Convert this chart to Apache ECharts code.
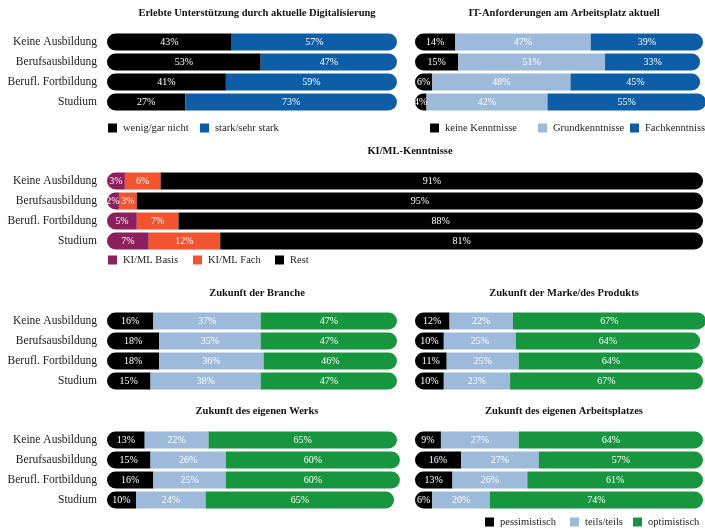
<!DOCTYPE html>
<html>
<head>
<meta charset="utf-8">
<script src="https://cdn.jsdelivr.net/npm/echarts@6/dist/echarts.min.js"></script>
<style>
  html, body { margin: 0; padding: 0; background: #fff; }
  #chart { width: 705px; height: 532px; }
</style>
</head>
<body>
<div id="chart"></div>
<script>
// Gruppen (Zeilen aller Teilgrafiken)
const categories = ['Keine Ausbildung', 'Berufsausbildung', 'Berufl. Fortbildung', 'Studium'];

// Erlebte Unterstützung durch aktuelle Digitalisierung
const supportLow = [43, 53, 41, 27];
const supportHigh = [57, 47, 59, 73];

// IT-Anforderungen am Arbeitsplatz aktuell
const itNone = [14, 15, 6, 4];
const itBasic = [47, 51, 48, 42];
const itExpert = [39, 33, 45, 55];

// KI/ML-Kenntnisse
const aiBasic = [3, 2, 5, 7];
const aiExpert = [6, 3, 7, 12];
const aiRest = [91, 95, 88, 81];

// Zukunft der Branche
const branchePess = [16, 18, 18, 15];
const branchePart = [37, 35, 36, 38];
const brancheOpt = [47, 47, 46, 47];

// Zukunft der Marke/des Produkts
const markePess = [12, 10, 11, 10];
const markePart = [22, 25, 25, 23];
const markeOpt = [67, 64, 64, 67];

// Zukunft des eigenen Werks
const werkPess = [13, 15, 16, 10];
const werkPart = [22, 26, 25, 24];
const werkOpt = [65, 60, 60, 65];

// Zukunft des eigenen Arbeitsplatzes
const platzPess = [9, 16, 13, 6];
const platzPart = [27, 27, 26, 20];
const platzOpt = [64, 57, 61, 74];

const SERIF = "'Liberation Serif', 'Times New Roman', serif";
const C = {
  black: '#000000',
  blue: '#0d5ea6',
  light: '#9dbadb',
  green: '#17963f',
  purple: '#8c1f5e',
  orange: '#f1542f'
};

// Layout of the seven panels
const panels = [
  { title: 'Erlebte Unterstützung durch aktuelle Digitalisierung', left: 107, width: 290, top: 32, labels: true,
    parts: [['wenig/gar nicht', supportLow, C.black], ['stark/sehr stark', supportHigh, C.blue]] },
  { title: 'IT-Anforderungen am Arbeitsplatz aktuell', left: 415, width: 288, top: 32, labels: false,
    parts: [['keine Kenntnisse', itNone, C.black], ['Grundkenntnisse', itBasic, C.light], ['Fachkenntnisse', itExpert, C.blue]] },
  { title: 'KI/ML-Kenntnisse', left: 107, width: 596, top: 171, labels: true,
    parts: [['KI/ML Basis', aiBasic, C.purple], ['KI/ML Fach', aiExpert, C.orange], ['Rest', aiRest, C.black]] },
  { title: 'Zukunft der Branche', left: 107, width: 290, top: 311, labels: true,
    parts: [['pessimistisch', branchePess, C.black], ['teils/teils', branchePart, C.light], ['optimistisch', brancheOpt, C.green]] },
  { title: 'Zukunft der Marke/des Produkts', left: 415, width: 288, top: 311, labels: false,
    parts: [['pessimistisch', markePess, C.black], ['teils/teils', markePart, C.light], ['optimistisch', markeOpt, C.green]] },
  { title: 'Zukunft des eigenen Werks', left: 107, width: 290, top: 430, labels: true,
    parts: [['pessimistisch', werkPess, C.black], ['teils/teils', werkPart, C.light], ['optimistisch', werkOpt, C.green]] },
  { title: 'Zukunft des eigenen Arbeitsplatzes', left: 415, width: 288, top: 430, labels: false,
    parts: [['pessimistisch', platzPess, C.black], ['teils/teils', platzPart, C.light], ['optimistisch', platzOpt, C.green]] }
];
const titleTops = [3, 3, 141, 283, 283, 401, 401];

const grid = [], xAxis = [], yAxis = [], series = [], title = [];
const R = 8.5;

panels.forEach((p, i) => {
  grid.push({ left: p.left, width: p.width, top: p.top, height: 80 });
  xAxis.push({ type: 'value', gridIndex: i, min: 0, max: 100, show: false });
  yAxis.push({
    type: 'category', gridIndex: i, data: categories, inverse: true,
    axisLine: { show: false }, axisTick: { show: false }, splitLine: { show: false },
    axisLabel: { show: p.labels, margin: 10, color: '#1a1a1a', fontSize: 11.5, fontFamily: SERIF }
  });
  title.push({
    text: p.title, left: p.left + p.width / 2, top: titleTops[i], textAlign: 'center',
    textStyle: { fontFamily: SERIF, fontWeight: 'bold', fontSize: 10.5, color: '#111' }
  });
  const n = p.parts.length;
  p.parts.forEach(([name, values, color], k) => {
    let radius = 0;
    if (k === 0) radius = [R, 0, 0, R];
    if (k === n - 1) radius = [0, R, R, 0];
    series.push({
      name, type: 'bar', xAxisIndex: i, yAxisIndex: i, stack: 'p' + i,
      barWidth: 17, clip: false, data: values,
      itemStyle: { color, borderRadius: radius },
      label: {
        show: true, position: 'inside', formatter: '{c}%',
        color: '#fff', fontSize: 10, fontFamily: SERIF
      },
      emphasis: { disabled: true },
      animation: false
    });
  });
});

// One legend entry per component so every key sits at its own spot
const legendItems = [
  ['wenig/gar nicht', 108, 129], ['stark/sehr stark', 200, 129],
  ['keine Kenntnisse', 430, 129], ['Grundkenntnisse', 538, 129], ['Fachkenntnisse', 630, 129],
  ['KI/ML Basis', 108, 261], ['KI/ML Fach', 193, 261], ['Rest', 275, 261],
  ['pessimistisch', 485, 523], ['teils/teils', 570, 523], ['optimistisch', 633, 523]
];
const legend = legendItems.map(([name, x, y]) => ({
  data: [name], left: x, top: y - 6.5, padding: 0,
  itemWidth: 9, itemHeight: 9, itemGap: 0, icon: 'rect', selectedMode: false,
  textStyle: { fontFamily: SERIF, fontSize: 10.5, color: '#222', padding: [0, 0, 0, 1] }
}));

const chart = echarts.init(document.getElementById('chart'), null, { renderer: 'canvas' });
chart.setOption({
  backgroundColor: '#fff',
  animation: false,
  title, grid, xAxis, yAxis, series, legend
});
</script>
</body>
</html>
